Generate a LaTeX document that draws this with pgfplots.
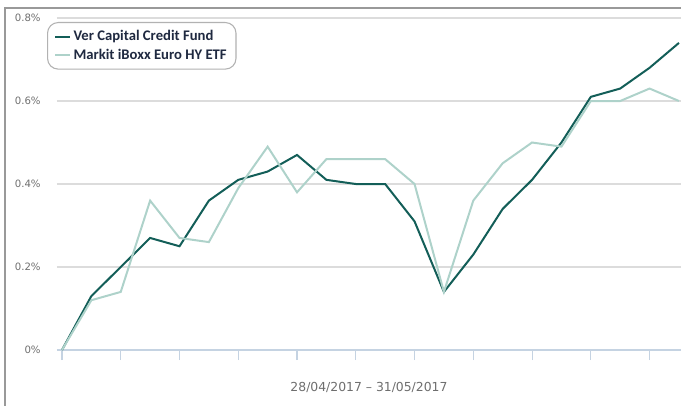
\documentclass[border=0pt]{standalone}
\usepackage{fontspec}
\setmainfont{DejaVu Sans}
\newfontfamily\carlito{Carlito}
\usepackage{pgfplots}
\pgfplotsset{compat=1.18}
\definecolor{ver}{HTML}{135E58}
\definecolor{markit}{HTML}{AED2CA}
\definecolor{axblue}{HTML}{C5D3E2}
\definecolor{gridc}{HTML}{DCDCDC}
\definecolor{lbl}{HTML}{6E6E6E}
\definecolor{legtxt}{HTML}{1F2940}
\begin{document}
\begin{tikzpicture}
\useasboundingbox (-42.75pt,-41.25pt) rectangle (468pt,262.5pt);
\draw[color=gray!80, line width=1pt] (-39pt,-45pt) -- (-39pt,256.5pt) -- (475pt,256.5pt);
\begin{axis}[
  at={(0pt,0pt)}, anchor=south west,
  scale only axis, width=468pt, height=249pt,
  xmin=-0.17, xmax=21.07, ymin=0, ymax=0.8,
  axis lines=left, axis line style={-},
  y axis line style={draw=none},
  x axis line style={color=axblue, line width=0.8pt},
  xtick={0,2,...,20}, xticklabels={},
  xtick align=outside, major tick length=7.5pt,
  xtick style={color=axblue, line width=0.8pt},
  ytick={0,0.2,0.4,0.6,0.8},
  ytick style={draw=none},
  ymajorgrids, grid style={color=gridc, line width=0.8pt},
  /pgf/number format/assume math mode=true,
  yticklabel={\pgfmathprintnumber[fixed,precision=1]{\tick}\%},
  yticklabel style={font=\fontsize{7.6}{8}\selectfont, color=lbl, anchor=east, xshift=-5pt},
  xlabel={28/04/2017 – 31/05/2017},
  xlabel style={font=\fontsize{9.3}{11}\selectfont, color=lbl, yshift=-6pt},
  clip=false,
  legend cell align=left,
  legend style={at={(axis description cs:-0.016,0.988)}, anchor=north west,
    draw=gray!60, rounded corners=8pt, line width=0.8pt,
    font=\carlito\bfseries\fontsize{11}{13}\selectfont, text=legtxt,
    inner xsep=5pt, inner ysep=4pt, row sep=0.5pt},
  legend image post style={line width=1.5pt},
  legend image code/.code={\draw[#1] (0pt,0pt) -- (11pt,0pt);},
]
\addplot[color=ver, line width=1.5pt] coordinates {
(0,0) (1,0.13) (2,0.20) (3,0.27) (4,0.25) (5,0.36) (6,0.41) (7,0.43) (8,0.47) (9,0.41) (10,0.40) (11,0.40) (12,0.31) (13,0.14) (14,0.23) (15,0.34) (16,0.41) (17,0.50) (18,0.61) (19,0.63) (20,0.68) (21,0.74)};
\addlegendentry{Ver Capital Credit Fund}
\addplot[color=markit, line width=1.5pt] coordinates {
(0,0) (1,0.12) (2,0.14) (3,0.36) (4,0.27) (5,0.26) (6,0.39) (7,0.49) (8,0.38) (9,0.46) (10,0.46) (11,0.46) (12,0.40) (13,0.14) (14,0.36) (15,0.45) (16,0.50) (17,0.49) (18,0.60) (19,0.60) (20,0.63) (21,0.60)};
\addlegendentry{Markit iBoxx Euro HY ETF}
\end{axis}
\end{tikzpicture}
\end{document}
